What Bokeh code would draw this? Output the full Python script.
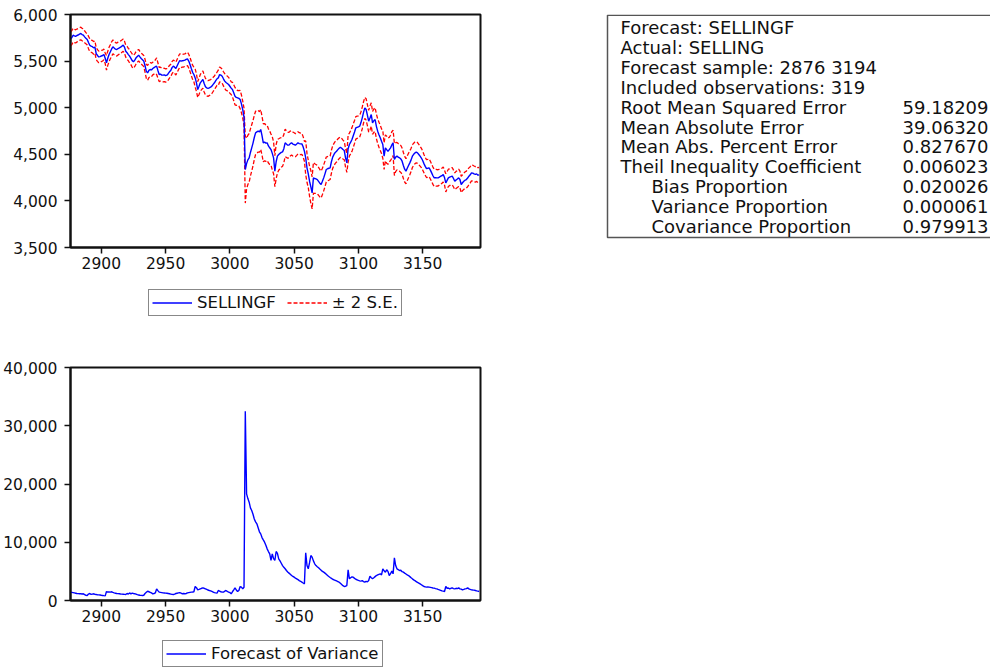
import math
from bokeh.plotting import figure
from bokeh.models import (Range1d, FixedTicker, NumeralTickFormatter, Legend,
                          LegendItem, ColumnDataSource)
from bokeh.layouts import row, column
from bokeh.embed import file_html
from bokeh.resources import INLINE
from bokeh.core.properties import value

# ---------------- data ----------------
periods = list(range(2876, 3195))

forecast = [
    5740, 5750, 5778, 5770, 5765, 5775, 5780, 5790, 5796, 5785,
    5778, 5760, 5745, 5732, 5700, 5670, 5660, 5655, 5642, 5650,
    5580, 5560, 5545, 5548, 5555, 5560, 5571, 5530, 5481, 5530,
    5571, 5600, 5630, 5653, 5640, 5628, 5624, 5635, 5642, 5650,
    5660, 5671, 5650, 5606, 5590, 5570, 5553, 5530, 5505, 5492,
    5510, 5535, 5550, 5564, 5545, 5528, 5515, 5500, 5450, 5390,
    5374, 5400, 5410, 5405, 5420, 5430, 5440, 5446, 5400, 5356,
    5360, 5350, 5349, 5352, 5345, 5349, 5365, 5385, 5400, 5430,
    5446, 5435, 5420, 5450, 5480, 5506, 5500, 5504, 5506, 5510,
    5518, 5524, 5500, 5463, 5420, 5380, 5356, 5320, 5267, 5195,
    5230, 5267, 5285, 5302, 5260, 5225, 5213, 5206, 5213, 5220,
    5231, 5250, 5267, 5290, 5310, 5320, 5356, 5350, 5338, 5310,
    5285, 5270, 5260, 5249, 5230, 5210, 5195, 5160, 5124, 5110,
    5106, 5100, 5088, 5041, 4980, 4900, 4337, 4400, 4440, 4462,
    4520, 4569, 4620, 4680, 4730, 4740, 4748, 4740, 4766, 4700,
    4623, 4630, 4620, 4623, 4590, 4570, 4551, 4510, 4462, 4319,
    4420, 4480, 4498, 4510, 4520, 4526, 4560, 4623, 4610, 4598,
    4598, 4615, 4623, 4610, 4605, 4598, 4610, 4623, 4615, 4612,
    4612, 4580, 4533, 4462, 4355, 4290, 4211, 4150, 4086, 4247,
    4240, 4236, 4229, 4210, 4190, 4176, 4210, 4247, 4290, 4337,
    4345, 4350, 4355, 4420, 4470, 4498, 4520, 4533, 4550, 4565,
    4576, 4565, 4551, 4540, 4462, 4408, 4560, 4605, 4630, 4659,
    4700, 4740, 4784, 4790, 4795, 4802, 4840, 4891, 4950, 4998,
    4981, 4920, 4855, 4890, 4927, 4837, 4860, 4873, 4800, 4748,
    4710, 4677, 4640, 4605, 4480, 4569, 4550, 4533, 4550, 4569,
    4600, 4623, 4444, 4470, 4480, 4470, 4462, 4450, 4426, 4380,
    4340, 4319, 4350, 4380, 4408, 4440, 4480, 4500, 4515, 4523,
    4515, 4498, 4480, 4460, 4433, 4400, 4370, 4347, 4350, 4355,
    4330, 4301, 4270, 4247, 4250, 4247, 4247, 4255, 4265, 4270,
    4283, 4250, 4194, 4220, 4247, 4255, 4260, 4265, 4240, 4211,
    4225, 4235, 4247, 4230, 4176, 4195, 4211, 4222, 4229, 4245,
    4265, 4280, 4301, 4298, 4290, 4285, 4290, 4276, 4280,
]

variance = [
    1425, 1400, 1350, 1300, 1250, 1200, 1180, 1160, 1150, 1120,
    1150, 1000, 900, 860, 1100, 1200, 1050, 1100, 1150, 1080,
    1020, 990, 970, 950, 900, 870, 830, 800, 1540, 1450,
    1480, 1430, 1500, 1380, 1300, 1250, 1200, 1180, 1150, 1120,
    1100, 1080, 1050, 1030, 1200, 1100, 1300, 1150, 1260, 1200,
    1150, 1100, 1000, 950, 900, 880, 860, 900, 1200, 1400,
    1600, 1500, 1400, 1300, 1150, 1200, 1300, 2000, 1700, 1430,
    1400, 1350, 1300, 1280, 1260, 1240, 1200, 1150, 1100, 1050,
    1030, 1100, 1200, 1250, 1300, 1350, 1250, 1150, 1200, 1150,
    1200, 1300, 1350, 1400, 1430, 1450, 1500, 2400, 2200, 1830,
    1900, 2000, 2100, 2170, 2100, 2000, 1900, 1800, 1720, 1650,
    1550, 1450, 1350, 1300, 1260, 1720, 1600, 1500, 1450, 1430,
    1600, 1720, 1550, 1450, 1380, 1150, 1500, 1830, 2170, 1800,
    1540, 1720, 2400, 2290, 2000, 2280, 32500, 18300, 17500, 16880,
    15900, 15450, 14800, 14000, 13500, 13160, 12500, 11800, 11440, 10800,
    10400, 10010, 9500, 8870, 8400, 8010, 6870, 8010, 7200, 6870,
    8410, 8100, 7150, 6800, 6400, 6000, 5700, 5450, 5150, 4900,
    4700, 4500, 4290, 4150, 4000, 3850, 3720, 3580, 3420, 3300,
    3150, 3000, 2860, 8180, 6000, 5440, 6500, 7720, 7440, 6800,
    6300, 6000, 5800, 5610, 5400, 5200, 5000, 4860, 4700, 4500,
    4300, 4120, 3950, 3800, 3650, 3550, 3450, 3350, 3250, 3150,
    2950, 2750, 2550, 2400, 2450, 2570, 5270, 3720, 3900, 4050,
    4000, 3800, 3650, 3550, 3450, 3380, 3320, 3400, 3250, 3150,
    3300, 3200, 3430, 4180, 3900, 3720, 3900, 4100, 4290, 4400,
    4500, 4580, 4400, 5440, 5100, 4860, 5270, 5000, 4290, 4600,
    5040, 4580, 7320, 6000, 5440, 5300, 5150, 5200, 4950, 4860,
    4700, 4550, 4400, 4290, 4100, 3900, 3720, 3550, 3400, 3250,
    3100, 2980, 2850, 2700, 2550, 2400, 2350, 2300, 2320, 2290,
    2250, 2200, 2150, 2120, 2050, 2000, 1900, 1830, 1750, 1650,
    1600, 1540, 2400, 2100, 2150, 2000, 2100, 2170, 2050, 2000,
    2100, 2050, 2170, 2000, 1950, 1830, 1900, 2000, 2050, 2170,
    2000, 1900, 1830, 1800, 1780, 1720, 1650, 1600, 1540,
]

# +/- 2 S.E. bands, as the chart defines them: forecast +/- 2*sqrt(variance)
upper_band = [f + 2 * math.sqrt(v) for f, v in zip(forecast, variance)]
lower_band = [f - 2 * math.sqrt(v) for f, v in zip(forecast, variance)]

x_ticks = [2900, 2950, 3000, 3050, 3100, 3150]
top_y_ticks = [3500, 4000, 4500, 5000, 5500, 6000]
bottom_y_ticks = [0, 10000, 20000, 30000, 40000]

stats_labels = [
    "Forecast: SELLINGF",
    "Actual: SELLING",
    "Forecast sample: 2876 3194",
    "Included observations: 319",
    "Root Mean Squared Error",
    "Mean Absolute Error",
    "Mean Abs. Percent Error",
    "Theil Inequality Coefficient",
    "Bias Proportion",
    "Variance Proportion",
    "Covariance Proportion",
]
stats_values = ["", "", "", "", "59.18209", "39.06320", "0.827670",
                "0.006023", "0.020026", "0.000061", "0.979913"]
stats_indent = [0, 0, 0, 0, 0, 0, 0, 0, 1, 1, 1]

# ---------------- styling ----------------
FONT = "DejaVu Sans"
BLUE = "#0000ff"
RED = "#ff0000"
INK = "#111111"
DASH = "4 2"


def style_axes(p, y_ticks):
    p.xgrid.visible = False
    p.ygrid.visible = False
    p.outline_line_color = INK
    p.outline_line_width = 2
    p.xaxis.ticker = FixedTicker(ticks=x_ticks)
    p.yaxis.ticker = FixedTicker(ticks=y_ticks)
    p.yaxis.formatter = NumeralTickFormatter(format="0,0")
    for ax in (p.xaxis[0], p.yaxis[0]):
        ax.axis_line_color = INK
        ax.axis_line_width = 2
        ax.major_tick_line_color = INK
        ax.major_tick_line_width = 1.5
        ax.major_tick_out = 6
        ax.major_tick_in = 0
        ax.minor_tick_out = 0
        ax.minor_tick_in = 0
        ax.major_label_text_font = FONT
        ax.major_label_text_font_size = "15.5px"
        ax.major_label_text_color = INK
    p.xaxis.major_label_standoff = 3
    p.yaxis.major_label_standoff = 7


def legend_figure(height, entries, loc):
    """A blank strip that only holds a boxed legend (same left/right
    margins as the charts)."""
    lf = figure(width=490, height=height, output_backend="svg",
                toolbar_location=None, x_axis_location=None,
                y_axis_location=None, x_range=Range1d(0, 1),
                y_range=Range1d(0, 1), min_border_left=70,
                min_border_right=10, min_border_top=0, min_border_bottom=0,
                sizing_mode="fixed")
    lf.grid.visible = False
    lf.outline_line_color = None
    # off-range stub so the legend has a line glyph to draw
    stub = ColumnDataSource(dict(x=[5, 6], y=[5, 6]))
    items = []
    for label, color, dash in entries:
        r = lf.line("x", "y", source=stub, line_color=color,
                    line_width=1.3, line_dash=dash)
        items.append(LegendItem(label=label, renderers=[r]))
    lg = Legend(items=items, orientation="horizontal", location=loc,
                border_line_color=INK, border_line_width=1,
                background_fill_color="white", background_fill_alpha=1,
                padding=3, spacing=11, glyph_width=40, glyph_height=19,
                label_height=19, label_standoff=5, margin=0,
                label_text_font=FONT, label_text_font_size="16.5px",
                label_text_color=INK)
    lf.add_layout(lg)
    return lf


src = ColumnDataSource(dict(x=periods, f=forecast, v=variance,
                            up=upper_band, lo=lower_band))

# ---- top chart: forecast with bands ----
p1 = figure(width=490, height=280, output_backend="svg",
            toolbar_location=None, x_range=Range1d(2876, 3195),
            y_range=Range1d(3500, 6000), min_border_left=70,
            min_border_right=10, min_border_top=14, min_border_bottom=33,
            sizing_mode="fixed")
style_axes(p1, top_y_ticks)
p1.line("x", "up", source=src, line_color=RED, line_width=1.3, line_dash=DASH)
p1.line("x", "lo", source=src, line_color=RED, line_width=1.3, line_dash=DASH)
p1.line("x", "f", source=src, line_color=BLUE, line_width=1.4)

# ---- statistics panel (same vertical frame as the top chart) ----
p3 = figure(width=500, height=280, output_backend="svg",
            toolbar_location=None, x_range=Range1d(490, 990),
            y_range=Range1d(247, 14), min_border_left=0, min_border_right=0,
            min_border_top=14, min_border_bottom=33, sizing_mode="fixed")
p3.axis.visible = False
p3.grid.visible = False
p3.outline_line_color = None

box_left, box_right, box_top, box_bottom = 607, 1000, 14.8, 237
p3.multi_line(xs=[[box_right, box_left, box_left, box_right]],
              ys=[[box_top, box_top, box_bottom, box_bottom]],
              line_color="#555555", line_width=1.5)

line0, step = 27, 19.9
label_x = [620 + 31 * k for k in stats_indent]
ys = [line0 + step * i for i in range(len(stats_labels))]
p3.text(x=label_x, y=ys, text=stats_labels, text_font=value(FONT),
        text_font_size=value("18px"), text_baseline="middle",
        text_align="left", text_color=INK)
p3.text(x=[988] * len(stats_values), y=ys, text=stats_values,
        text_font=value(FONT), text_font_size=value("18px"),
        text_baseline="middle", text_align="right", text_color=INK)

leg1 = legend_figure(50, [("SELLINGF", BLUE, "solid"),
                          ("± 2 S.E.", RED, DASH)], (78, 14))

# ---- bottom chart: forecast variance ----
p2 = figure(width=490, height=300, output_backend="svg",
            toolbar_location=None, x_range=Range1d(2876, 3195),
            y_range=Range1d(0, 40000), min_border_left=70,
            min_border_right=10, min_border_top=37, min_border_bottom=30,
            sizing_mode="fixed")
style_axes(p2, bottom_y_ticks)
p2.line("x", "v", source=src, line_color=BLUE, line_width=1.4)

leg2 = legend_figure(38, [("Forecast of Variance", BLUE, "solid")], (92, 1))

layout = column(row(p1, p3), leg1, p2, leg2)
open("out.html", "w").write(file_html(layout, INLINE))
